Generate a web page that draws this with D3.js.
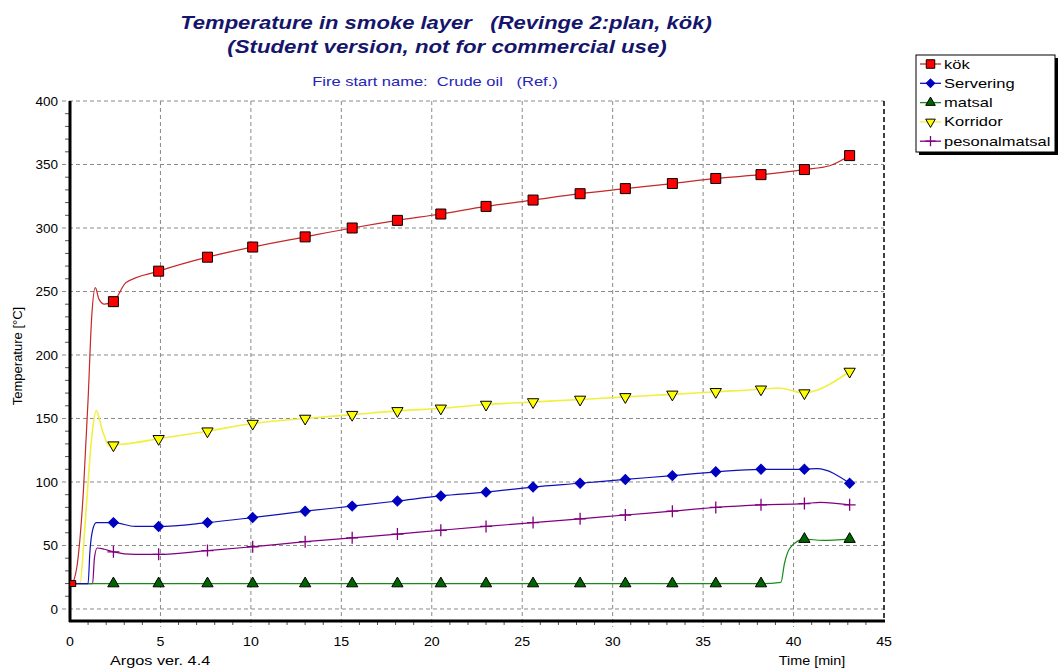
<!DOCTYPE html>
<html>
<head>
<meta charset="utf-8">
<script src="https://cdn.jsdelivr.net/npm/d3@7"></script>
<style>
  body { margin: 0; background: #fff; }
  text { font-family: "Liberation Sans", Arial, sans-serif; white-space: pre; }
</style>
</head>
<body>
<script>
let w = 1061;
let h = 668;

// times (min) where the markers sit
let markerTimes = [2.4, 4.9, 7.6, 10.1, 13.0, 15.6, 18.1, 20.5, 23.0, 25.6, 28.2, 30.7, 33.3, 35.7, 38.2, 40.6, 43.1];

// kök
let kokTime = [0.15, 0.4, 0.75, 1.0, 1.2, 1.4, 1.6, 1.9, 2.4, 3.1, 4.9, 7.6, 10.1, 13.0, 15.6, 18.1, 20.5, 23.0, 25.6, 28.2, 30.7, 33.3, 35.7, 38.2, 40.6, 42.0, 43.1];
let kokTemp = [20, 35, 95, 165, 230, 253, 244, 240, 242, 257, 266, 277, 285, 293, 300, 306, 311, 317, 322, 327, 331, 335, 339, 342, 346, 349, 357];

// Servering
let servTime = [0.15, 1.0, 1.1, 1.25, 1.45, 2.4, 3.6, 4.9, 7.6, 10.1, 13.0, 15.6, 18.1, 20.5, 23.0, 25.6, 28.2, 30.7, 33.3, 35.7, 38.2, 40.6, 41.3, 43.1];
let servTemp = [20, 20, 45, 62, 68, 68, 65, 65, 68, 72, 77, 81, 85, 89, 92, 96, 99, 102, 105, 108, 110, 110, 110.5, 99];

// matsal
let matsTime = [0.15, 2.4, 4.9, 7.6, 10.1, 13.0, 15.6, 18.1, 20.5, 23.0, 25.6, 28.2, 30.7, 33.3, 35.7, 38.2, 39.3, 39.5, 39.8, 40.6, 41.6, 43.1];
let matsTemp = [20, 20, 20, 20, 20, 20, 20, 20, 20, 20, 20, 20, 20, 20, 20, 20, 21, 36, 48, 55, 54, 55];

// Korridor
let korrTime = [0.15, 0.55, 0.8, 1.0, 1.2, 1.45, 1.8, 2.2, 2.4, 3.1, 4.9, 7.6, 10.1, 13.0, 15.6, 18.1, 20.5, 23.0, 25.6, 28.2, 30.7, 33.3, 35.7, 38.2, 39.2, 40.6, 41.0, 43.1];
let korrTemp = [20, 20, 60, 100, 135, 156, 140, 128, 129, 130, 134, 140, 146, 150, 153, 156, 158, 161, 163, 165, 167, 169, 171, 173, 174, 170, 171, 187];

// pesonalmatsal
let persTime = [0.15, 1.25, 1.35, 1.5, 1.9, 2.4, 3.6, 4.9, 7.6, 10.1, 13.0, 15.6, 18.1, 20.5, 23.0, 25.6, 28.2, 30.7, 33.3, 35.7, 38.2, 40.6, 41.5, 43.1];
let persTemp = [20, 20, 40, 48, 47, 45, 43, 43, 46, 49, 53, 56, 59, 62, 65, 68, 71, 74, 77, 80, 82, 83, 84, 82];

let xTicks = [0, 5, 10, 15, 20, 25, 30, 35, 40, 45];
let yTicks = [0, 50, 100, 150, 200, 250, 300, 350, 400];

let series = [
  { name: "kök", time: kokTime, temp: kokTemp, line: "#c42828", fill: "#ff0000", sym: "square" },
  { name: "Servering", time: servTime, temp: servTemp, line: "#1010b8", fill: "#0000c0", sym: "diamond" },
  { name: "matsal", time: matsTime, temp: matsTemp, line: "#1a8a1a", fill: "#006400", sym: "up" },
  { name: "Korridor", time: korrTime, temp: korrTemp, line: "#f0f040", fill: "#ffff00", sym: "down" },
  { name: "pesonalmatsal", time: persTime, temp: persTemp, line: "#800080", fill: "none", sym: "plus" }
];

let xScale = d3.scaleLinear().domain([0, 45]).range([70, 884]);
let yScale = d3.scaleLinear().domain([-9, 400]).range([620.4, 101]);

let svg = d3.select("body")
  .append("svg")
  .attr("width", w)
  .attr("height", h);

// text helper, sx stretches the glyphs sideways like the original screenshot
function addText(x, y, str, size, anchor, sx) {
  return svg.append("text")
    .attr("transform", "translate(" + x + "," + y + ") scale(" + (sx || 1) + ",1)")
    .attr("text-anchor", anchor || "start")
    .attr("font-size", size + "px")
    .text(str);
}

// Titles
let navy = "#15156b";
addText(446, 29, "Temperature in smoke layer   (Revinge 2:plan, kök)", 19, "middle", 1.16)
  .attr("font-weight", "bold").attr("font-style", "italic").attr("fill", navy);
addText(447, 53, "(Student version, not for commercial use)", 19, "middle", 1.17)
  .attr("font-weight", "bold").attr("font-style", "italic").attr("fill", navy);
addText(435, 86, "Fire start name:  Crude oil   (Ref.)", 12.5, "middle", 1.32)
  .attr("fill", "#2424b8");

// Grid
svg.selectAll(".gy")
  .data(yTicks)
  .enter()
  .append("line")
  .attr("x1", 62).attr("x2", 884)
  .attr("y1", d => yScale(d)).attr("y2", d => yScale(d))
  .attr("stroke", "#8a8a8a").attr("stroke-dasharray", "4,3");
svg.selectAll(".gx")
  .data(xTicks.slice(1, -1))
  .enter()
  .append("line")
  .attr("x1", d => xScale(d)).attr("x2", d => xScale(d))
  .attr("y1", 101).attr("y2", 627)
  .attr("stroke", "#8a8a8a").attr("stroke-dasharray", "4,3");

// minor ticks
svg.selectAll(".my")
  .data(d3.range(0, 401, 10).filter(d => d % 50 != 0))
  .enter()
  .append("line")
  .attr("x1", 65).attr("x2", 70)
  .attr("y1", d => yScale(d)).attr("y2", d => yScale(d))
  .attr("stroke", "#555");
svg.selectAll(".mx")
  .data(d3.range(1, 45).filter(d => d % 5 != 0))
  .enter()
  .append("line")
  .attr("x1", d => xScale(d)).attr("x2", d => xScale(d))
  .attr("y1", 621).attr("y2", 625)
  .attr("stroke", "#555");

// Right border
svg.append("line")
  .attr("x1", 884).attr("x2", 884).attr("y1", 101).attr("y2", 622)
  .attr("stroke", "#000").attr("stroke-width", 1.5).attr("stroke-dasharray", "5,3");

// Tick labels
yTicks.forEach(d => addText(58, yScale(d) + 5, d, 13.5, "end", 1));
xTicks.forEach(d => addText(xScale(d), 646, d, 13.5, "middle", 1.05));

svg.append("text")
  .attr("transform", "translate(22,356) rotate(-90)")
  .attr("text-anchor", "middle")
  .attr("font-size", "13px")
  .text("Temperature [°C]");
addText(110, 665, "Argos ver. 4.4", 12.5, "start", 1.3);
addText(812, 665, "Time [min]", 12.5, "middle", 1.15);

// Lines
let line = d3.line()
  .x(d => xScale(d[0]))
  .y(d => yScale(d[1]))
  .curve(d3.curveMonotoneX);

series.forEach(s => {
  s.pts = s.time.map((t, i) => [t, s.temp[i]]);
});

// draw in reverse so kök ends on top
series.slice().reverse().forEach(s => {
  svg.append("path")
    .attr("d", line(s.pts))
    .attr("fill", "none")
    .attr("stroke", s.line)
    .attr("stroke-width", s.name == "Korridor" ? 1.6 : 1.2);
});

// Axes lines
svg.append("line")
  .attr("x1", 70).attr("x2", 70).attr("y1", 101).attr("y2", 622)
  .attr("stroke", "#000").attr("stroke-width", 3);
svg.append("line")
  .attr("x1", 69).attr("x2", 885).attr("y1", 621).attr("y2", 621)
  .attr("stroke", "#000").attr("stroke-width", 3);

// marker drawing
function drawMarker(g, s, x, y, k) {
  k = k || 1;
  let tr = "translate(" + x + "," + y + ")";
  if (s.sym == "plus") {
    let r = 6 * k;
    g.append("path")
      .attr("d", "M" + (x - r) + "," + y + "H" + (x + r) + "M" + x + "," + (y - r) + "V" + (y + r))
      .attr("stroke", s.line).attr("stroke-width", 1.3).attr("fill", "none");
  } else if (s.sym == "square") {
    g.append("path")
      .attr("d", d3.symbol().type(d3.symbolSquare).size(100 * k * k)())
      .attr("transform", tr)
      .attr("fill", s.fill).attr("stroke", "#000").attr("stroke-width", 1);
  } else if (s.sym == "diamond") {
    g.append("path")
      .attr("d", d3.symbol().type(d3.symbolSquare).size(50 * k * k)())
      .attr("transform", tr + " rotate(45)")
      .attr("fill", s.fill).attr("stroke", s.fill).attr("stroke-width", 1);
  } else {
    g.append("path")
      .attr("d", d3.symbol().type(d3.symbolTriangle).size(55 * k * k)())
      .attr("transform", tr + (s.sym == "down" ? " rotate(180)" : ""))
      .attr("fill", s.fill).attr("stroke", "#000").attr("stroke-width", 1);
  }
}

let mg = svg.append("g");
series.slice().reverse().forEach(s => {
  s.pts.filter(d => markerTimes.includes(d[0])).forEach(d => {
    drawMarker(mg, s, xScale(d[0]), yScale(d[1]));
  });
});
// small start marker
drawMarker(mg, series[0], xScale(kokTime[0]), yScale(kokTemp[0]), 0.6);

// Legend
let lg = svg.append("g");
lg.append("rect")
  .attr("x", 919).attr("y", 58).attr("width", 139).attr("height", 97)
  .attr("fill", "#000");
lg.append("rect")
  .attr("x", 916).attr("y", 55).attr("width", 139).attr("height", 97)
  .attr("fill", "#fff").attr("stroke", "#000").attr("stroke-width", 1);

series.forEach((s, i) => {
  let y = 64 + i * 19.3;
  lg.append("line")
    .attr("x1", 920).attr("x2", 941).attr("y1", y).attr("y2", y)
    .attr("stroke", s.line).attr("stroke-width", 1.3);
  drawMarker(lg, s, 930.5, y, 0.85);
  lg.append("text")
    .attr("transform", "translate(944," + (y + 4.5) + ") scale(1.27,1)")
    .attr("font-size", "13px")
    .text(s.name);
});
</script>
</body>
</html>
